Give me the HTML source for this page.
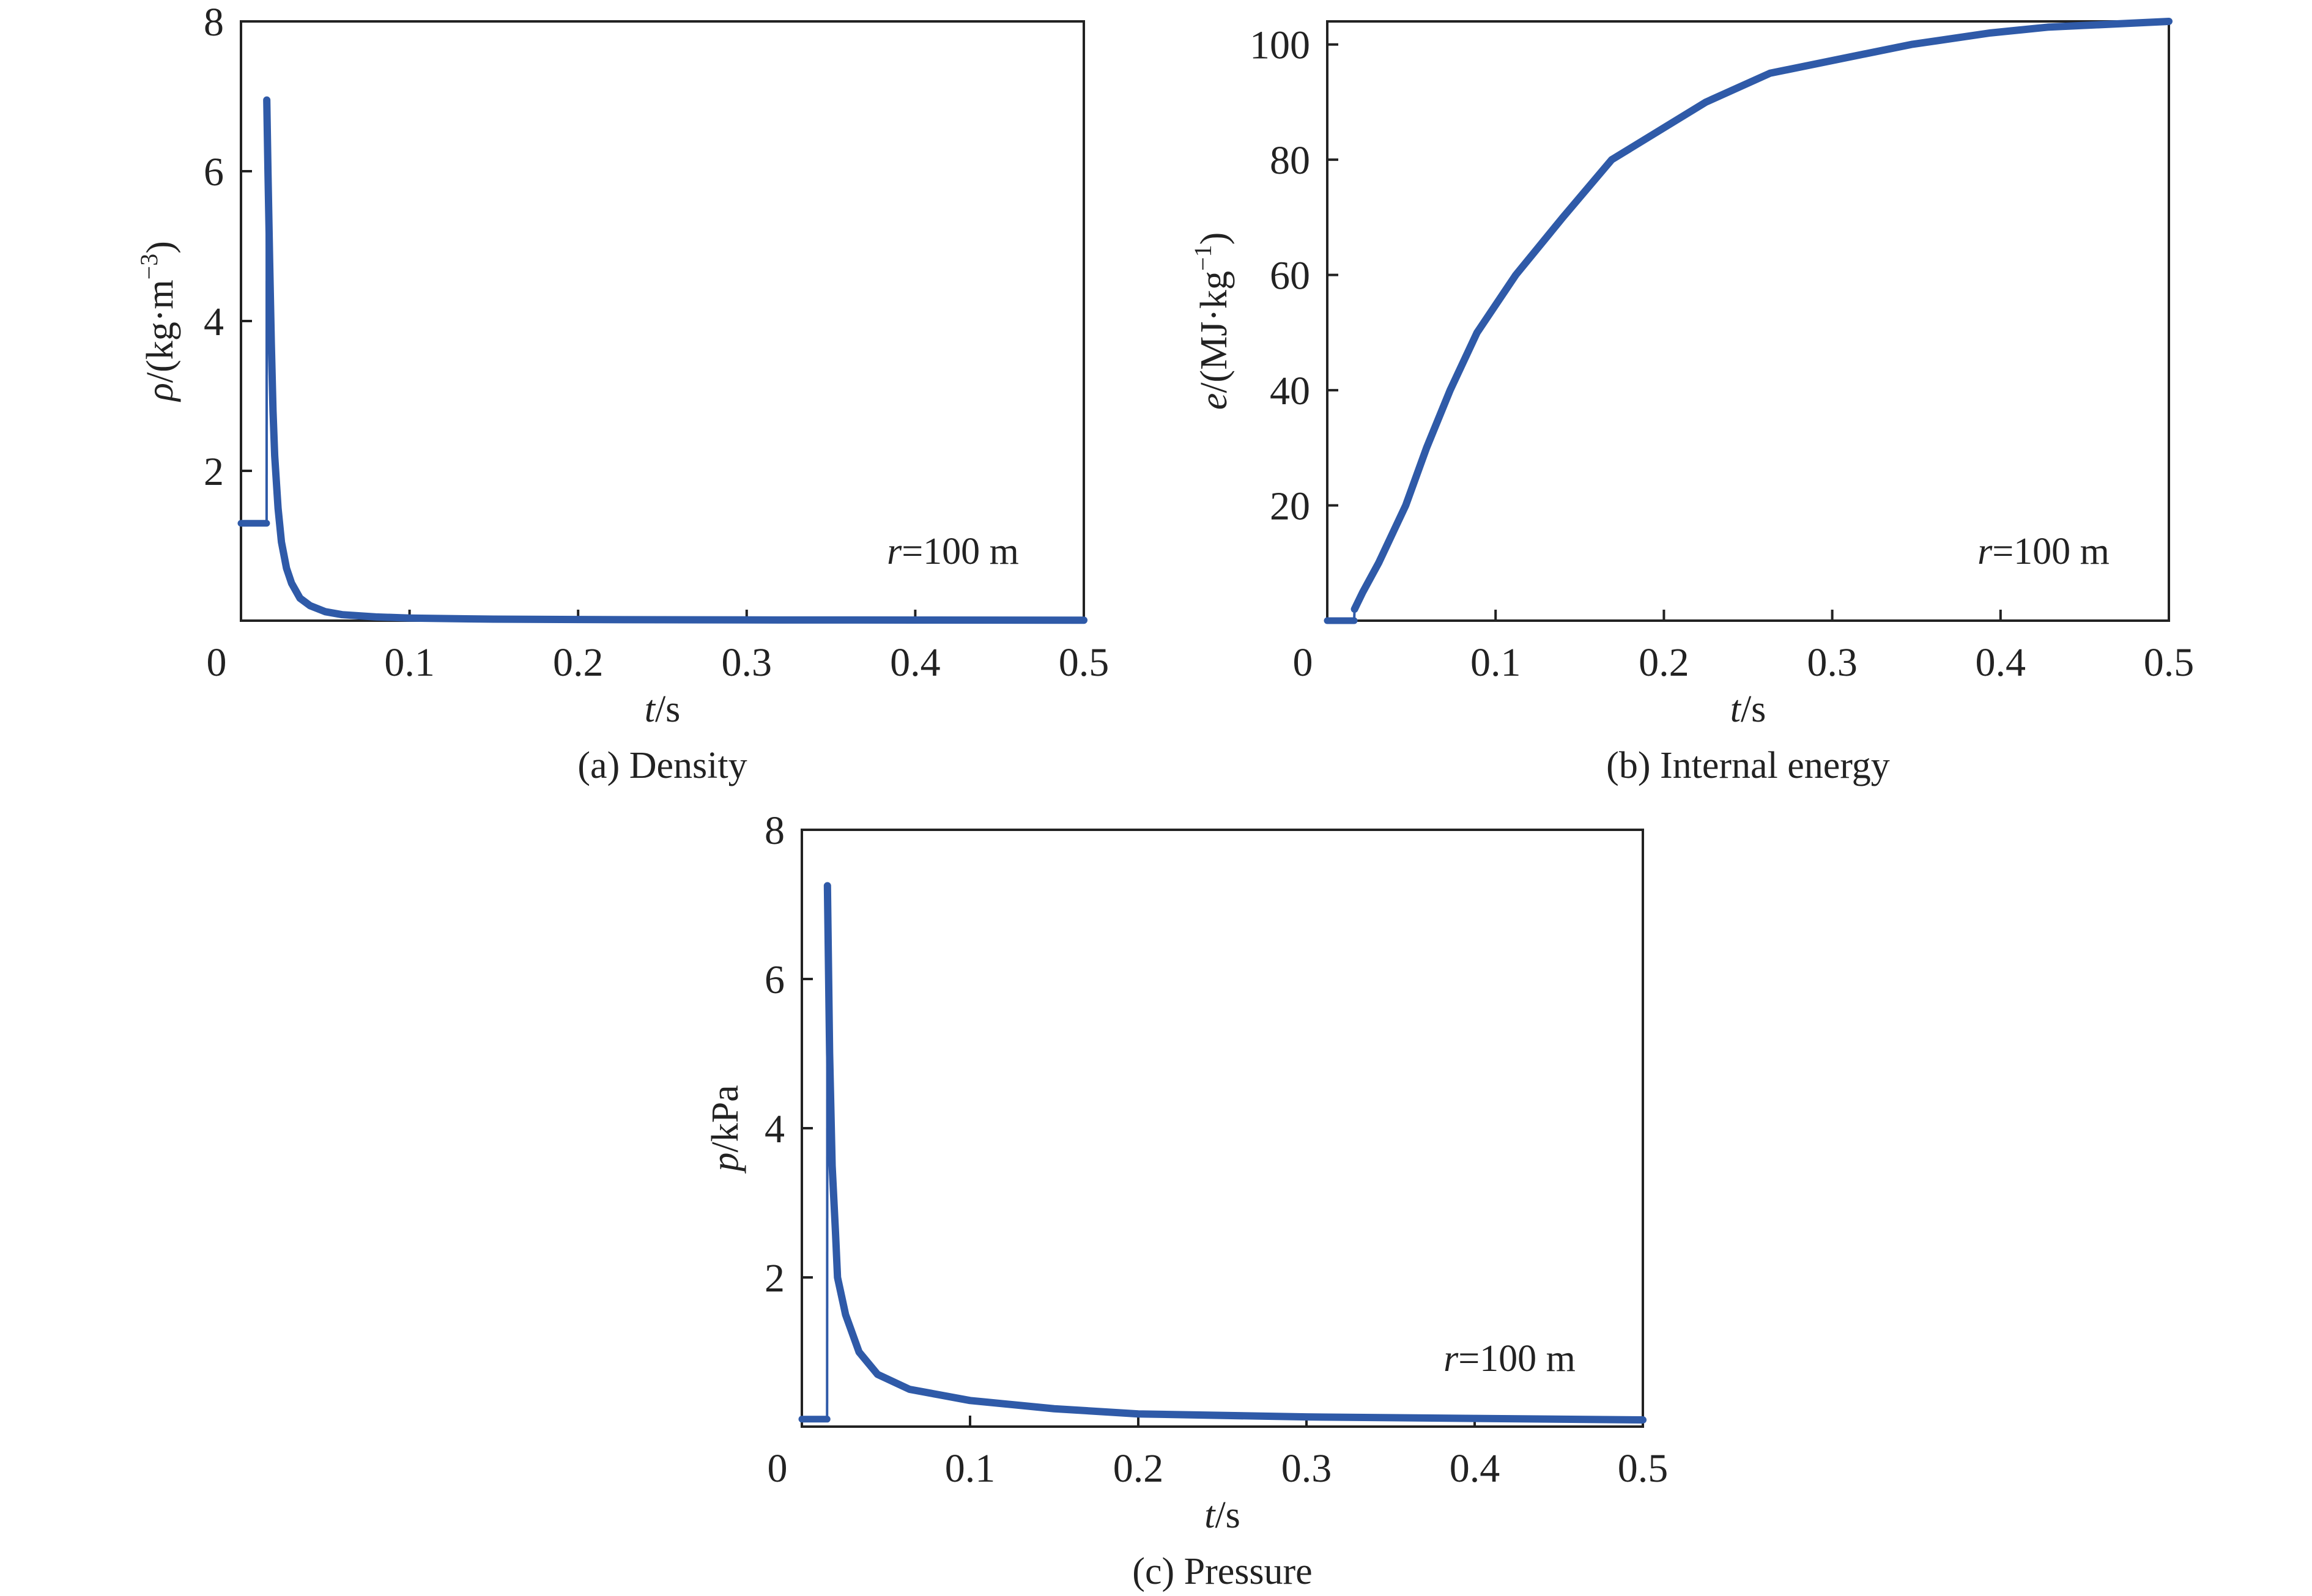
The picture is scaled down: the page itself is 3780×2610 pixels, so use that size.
<!DOCTYPE html>
<html><head><meta charset="utf-8"><style>
html,body{margin:0;padding:0;background:#fff}
svg{display:block}
text{font-family:"Liberation Serif",serif;fill:#222}
</style></head><body>
<svg id="fig" width="3780" height="2610" viewBox="0 0 3780 2610" xmlns="http://www.w3.org/2000/svg"></svg>
<script>
const xTicks=[0.1,0.2,0.3,0.4,0.5];
const xTickLabels=["0.1","0.2","0.3","0.4","0.5"];
const densT=[0,0.0152,0.0153,0.016,0.017,0.018,0.019,0.020,0.022,0.024,0.027,0.030,0.035,0.041,0.05,0.06,0.08,0.1,0.15,0.2,0.3,0.4,0.5];
const densV=[1.3,1.3,6.95,6.0,4.8,3.7,2.8,2.2,1.5,1.05,0.7,0.5,0.3,0.2,0.12,0.08,0.05,0.035,0.02,0.015,0.01,0.008,0.006];
const densYTicks=[2,4,6,8];
const energyT=[0,0.016,0.0162,0.021,0.0305,0.0466,0.059,0.073,0.089,0.112,0.14,0.169,0.225,0.263,0.347,0.394,0.428,0.5];
const energyV=[0,0,2,4.9,10,20,30,40,50,60,70,80,90,95,100,102,103,104];
const energyYTicks=[20,40,60,80,100];
const presT=[0,0.0150,0.0152,0.0165,0.018,0.020,0.0212,0.026,0.034,0.045,0.064,0.1,0.15,0.2,0.3,0.4,0.5];
const presV=[0.1,0.1,7.25,5.0,3.5,2.6,2.0,1.5,1.0,0.7,0.5,0.35,0.24,0.17,0.13,0.11,0.09];
const presYTicks=[2,4,6,8];

const NS="http://www.w3.org/2000/svg";
const svg=document.getElementById('fig');
function mk(tag,attrs,parent){const e=document.createElementNS(NS,tag);for(const k in attrs)e.setAttribute(k,attrs[k]);(parent||svg).appendChild(e);return e;}

function panel(cfg){
  const g=mk('g',{});
  
  
  const {L,R,T,B,ymax}=cfg;
  const sx=t=>L+(t/0.5)*(R-L);
  const sy=v=>B-(v/ymax)*(B-T);
  const frame=mk('rect',{x:L,y:T,width:R-L,height:B-T,fill:'none',stroke:'#222','stroke-width':4},g);
  
  
  xTicks.forEach((t,i)=>{
    if(i<xTicks.length-1){
      const tk=mk('line',{x1:sx(t),x2:sx(t),y1:B,y2:B-18,stroke:'#222','stroke-width':4},g);
      
      
    }
    const tl=mk('text',{x:sx(t),y:B+90,'font-size':66,'text-anchor':'middle'},g);
    tl.textContent=xTickLabels[i];
    
    
  });
  const z=mk('text',{x:L-40,y:B+90,'font-size':66,'text-anchor':'middle'},g);
  z.textContent='0';
  
  
  cfg.yTicks.forEach(v=>{
    if(v<ymax-0.001){
      const tk=mk('line',{x1:L,x2:L+18,y1:sy(v),y2:sy(v),stroke:'#222','stroke-width':4},g);
      
      
    }
    const tl=mk('text',{x:L-28,y:sy(v)+23,'font-size':66,'text-anchor':'end'},g);
    tl.textContent=String(v);
    
    
  });
  // series
  const ts=cfg.t, vs=cfg.v, j=cfg.jump;
  const flat=ts.slice(0,j).map((t,i)=>sx(t)+','+sy(vs[i])).join(' ');
  const f=mk('polyline',{points:flat,fill:'none',stroke:'#2f5aa8','stroke-width':11,'stroke-linecap':'round','stroke-linejoin':'round'},g);
  
  
  const jl=mk('line',{x1:sx(ts[j-1]),y1:sy(vs[j-1]),x2:sx(ts[j]),y2:sy(vs[j]),stroke:'#2f5aa8','stroke-width':4},g);
  
  
  const main=ts.slice(j).map((t,i)=>sx(t)+','+sy(vs[i+j])).join(' ');
  const m=mk('polyline',{points:main,fill:'none',stroke:'#2f5aa8','stroke-width':12,'stroke-linecap':'round','stroke-linejoin':'round'},g);
  
  
  // annotation
  const an=mk('text',{x:cfg.annX,y:cfg.annY,'font-size':62,'text-anchor':'middle'},g);
  an.innerHTML='<tspan font-style="italic">r</tspan>=100 m';
  
  
  // x label
  const xl=mk('text',{x:(L+R)/2,y:B+165,'font-size':62,'text-anchor':'middle'},g);
  xl.innerHTML='<tspan font-style="italic">t</tspan>/s';
  
  
  // y label
  const yl=mk('text',{x:0,y:0,'font-size':62,'text-anchor':'middle',transform:`translate(${cfg.ylX},${(T+B)/2}) rotate(-90)`},g);
  yl.innerHTML=cfg.ylabel;
  
  
  // caption
  const cp=mk('text',{x:(L+R)/2,y:B+257,'font-size':62,'text-anchor':'middle'},g);
  cp.textContent=cfg.caption;
  
  
}

panel({name:'density-panel',L:394,R:1772,T:35,B:1015,ymax:8,yTicks:densYTicks,t:densT,v:densV,jump:2,
  annX:1558,annY:922,ylX:282,caption:'(a) Density',
  ylabel:'<tspan font-style="italic">ρ</tspan>/(kg·m<tspan dy="-25" font-size="40">−3</tspan><tspan dy="25">)</tspan>'});
panel({name:'energy-panel',L:2170,R:3546,T:35,B:1015,ymax:104,yTicks:energyYTicks,t:energyT,v:energyV,jump:2,
  annX:3341,annY:922,ylX:2005,caption:'(b) Internal energy',
  ylabel:'<tspan font-style="italic">e</tspan>/(MJ·kg<tspan dy="-25" font-size="40">−1</tspan><tspan dy="25">)</tspan>'});
panel({name:'pressure-panel',L:1311,R:2686,T:1357,B:2333,ymax:8,yTicks:presYTicks,t:presT,v:presV,jump:2,
  annX:2468,annY:2242,ylX:1206,caption:'(c) Pressure',
  ylabel:'<tspan font-style="italic">p</tspan>/kPa'});
</script>
</body></html>
